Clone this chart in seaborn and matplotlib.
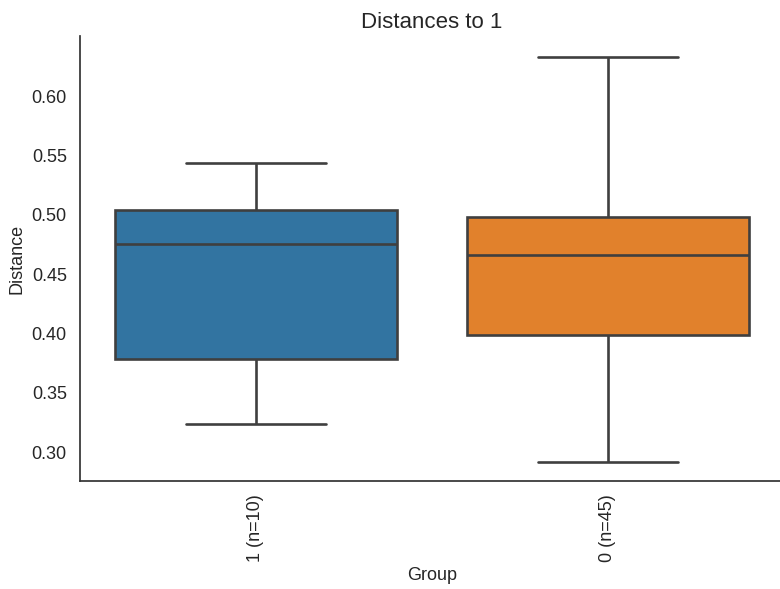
import matplotlib
matplotlib.use("Agg")
import matplotlib.pyplot as plt
import seaborn as sns
import pandas as pd

groups = ["1 (n=10)", "0 (n=45)"]
# five-number summaries: min, Q1, median, Q3, max
group1_values = [0.3236, 0.378, 0.475, 0.504, 0.5435]
group0_values = [0.2916, 0.3986, 0.466, 0.498, 0.633]

df = pd.DataFrame({
    "Group": [groups[0]] * len(group1_values) + [groups[1]] * len(group0_values),
    "Distance": group1_values + group0_values,
})

sns.set_theme(style="white")
plt.rcParams["font.family"] = ["Liberation Sans", "DejaVu Sans"]

fig = plt.figure(figsize=(7.8, 5.89), dpi=100)
ax = fig.add_axes([80 / 780, 108 / 589, 704 / 780, 445 / 589])
sns.boxplot(data=df, x="Group", y="Distance", hue="Group", order=groups,
            palette="tab10", saturation=0.75, linewidth=1.9, width=0.8,
            linecolor="#3f3f3f", legend=False, ax=ax)
sns.despine(ax=ax)
ax.set_title("Distances to 1", fontsize=16)
ax.set_xlabel("Group", fontsize=13)
ax.set_ylabel("Distance", fontsize=13)
ax.tick_params(axis="x", labelrotation=90, labelsize=13)
ax.tick_params(axis="y", labelsize=13)
ax.set_yticks([0.30, 0.35, 0.40, 0.45, 0.50, 0.55, 0.60])
ax.set_ylim(0.2756, 0.6506)
ax.set_xlim(-0.5, 1.5)
for s in ax.spines.values():
    s.set_color("#333333")
fig.savefig("out.png", dpi=100)
